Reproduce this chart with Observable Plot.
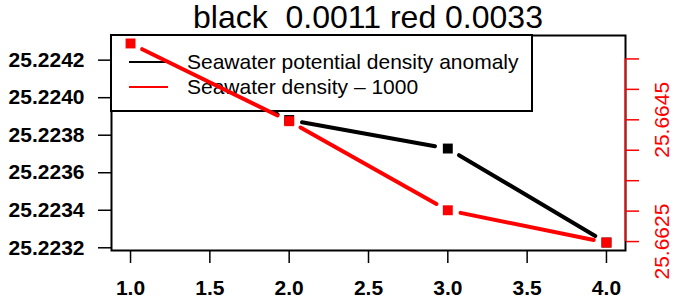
<!DOCTYPE html>
<html><head><meta charset="utf-8">
<script src="https://cdn.jsdelivr.net/npm/d3@7"></script>
<script src="https://cdn.jsdelivr.net/npm/@observablehq/plot@0.6"></script>
<style>
body{margin:0;background:#fff;}
#wrap{position:relative;width:674px;height:298px;font-family:"Liberation Sans",Arial,Helvetica,sans-serif;overflow:hidden;}
#wrap svg{position:absolute;left:0;top:0;}
#p1{z-index:0} #p2{z-index:2}
#title{position:absolute;left:111px;width:514px;top:1px;text-align:center;font-size:32px;line-height:32px;color:#000;white-space:pre;z-index:3;}
#legend{position:absolute;left:110px;top:34px;width:419px;height:74px;border:2px solid #000;background:#fff;z-index:1;}
#legend .row{position:absolute;left:0;height:24px;width:100%;}
#legend .sw{position:absolute;left:17px;width:39px;top:11px;height:0;border-top:2px solid;}
#legend .tx{position:absolute;left:75px;top:0;font-size:21px;line-height:24px;white-space:nowrap;color:#000;}
</style></head>
<body>
<div id="wrap">
  <div id="title"></div>
  <div id="legend"></div>
</div>
<script>
// ---- data ----
const xs = [1, 2, 3, 4];
const blackValues = [25.224289, 25.223881, 25.223729, 25.223228];
const redValues = [25.665754, 25.664477, 25.663014, 25.662484];
const xTicks = [1, 1.5, 2, 2.5, 3, 3.5, 4];
const blackTicks = [25.2232, 25.2234, 25.2236, 25.2238, 25.2240, 25.2242];
const redTicks = [25.6625, 25.6630, 25.6635, 25.6640, 25.6645, 25.6650, 25.6655];
const redLabels = [25.6625, 25.6645];
const seriesNames = ["Seawater potential density anomaly", "Seawater density \u2013 1000"];
const seriesColors = ["#000000", "#ff0000"];
const titleText = "black  0.0011 red 0.0033";

// ---- layout ----
const W = 674, H = 298, mL = 111, mR = 49, mT = 35, mB = 48;
const GAP = 13;
const pad = (v) => { const lo = d3.min(v), hi = d3.max(v), r = hi - lo; return [lo - 0.04 * r, hi + 0.04 * r]; };
const xDom = pad(xs);
const yDomB = pad(blackValues);
const yDomR = pad(redValues);

function gapSegs(vals, yDom) {
  const kx = (W - mL - mR) / (xDom[1] - xDom[0]);
  const ky = (H - mT - mB) / (yDom[1] - yDom[0]);
  const segs = [];
  for (let i = 0; i < xs.length - 1; i++) {
    const ddx = xs[i + 1] - xs[i], ddy = vals[i + 1] - vals[i];
    const L = Math.hypot(ddx * kx, ddy * ky);
    const t = GAP / L;
    segs.push({x1: xs[i] + ddx * t, y1: vals[i] + ddy * t, x2: xs[i + 1] - ddx * t, y2: vals[i + 1] - ddy * t});
  }
  return segs;
}
const ptsB = xs.map((x, i) => ({x, y: blackValues[i]}));
const ptsR = xs.map((x, i) => ({x, y: redValues[i]}));

const p1 = Plot.plot({
  width: W, height: H, marginLeft: mL, marginRight: mR, marginTop: mT, marginBottom: mB,
  style: {fontFamily: '"Liberation Sans", Arial, sans-serif', fontSize: "21px", fontWeight: "bold", background: "white", color: "black"},
  x: {domain: xDom},
  y: {domain: yDomB},
  marks: [
    Plot.link(gapSegs(blackValues, yDomB), {x1: "x1", y1: "y1", x2: "x2", y2: "y2", stroke: seriesColors[0], strokeWidth: 4, strokeLinecap: "round"}),
    Plot.dot(ptsB, {x: "x", y: "y", symbol: "square", r: 5.6, fill: seriesColors[0], stroke: null}),
    Plot.axisY(blackTicks, {anchor: "left", tickSize: 13, tickPadding: 14, tickFormat: d => d.toFixed(4), strokeWidth: 1.5, label: null}),
    Plot.axisX(xTicks, {anchor: "bottom", tickSize: 13, tickPadding: 17, tickFormat: d => d.toFixed(1), strokeWidth: 1.5, label: null}),
    Plot.frame({stroke: "black", strokeWidth: 2})
  ]
});
p1.id = "p1";

const p2 = Plot.plot({
  width: W, height: H, marginLeft: mL, marginRight: mR, marginTop: mT, marginBottom: mB,
  style: {fontFamily: '"Liberation Sans", Arial, sans-serif', fontSize: "20px", fontWeight: "normal", background: "transparent", overflow: "visible"},
  x: {domain: xDom, axis: null},
  y: {domain: yDomR},
  marks: [
    Plot.link(gapSegs(redValues, yDomR), {x1: "x1", y1: "y1", x2: "x2", y2: "y2", stroke: seriesColors[1], strokeWidth: 4, strokeLinecap: "round"}),
    Plot.dot(ptsR, {x: "x", y: "y", symbol: "square", r: 5.6, fill: seriesColors[1], stroke: null}),
    Plot.ruleX([xDom[1]], {x: d => d, y1: () => redTicks[0], y2: () => redTicks[redTicks.length - 1], stroke: seriesColors[1], strokeWidth: 1.5}),
    Plot.axisY(redTicks, {anchor: "right", tickSize: 13, tickFormat: () => "", stroke: seriesColors[1], strokeWidth: 1.5, label: null}),
    Plot.text(redLabels, {x: () => xDom[1], y: d => d, text: d => d.toFixed(4), rotate: -90, dx: 37, fill: seriesColors[1], fontSize: 21, textAnchor: "middle", lineAnchor: "middle"})
  ]
});
p2.id = "p2";

const wrap = document.getElementById("wrap");
wrap.insertBefore(p1, wrap.firstChild);
wrap.appendChild(p2);
document.getElementById("title").textContent = titleText;

const leg = document.getElementById("legend");
seriesNames.forEach((name, i) => {
  const row = document.createElement("div");
  row.className = "row";
  row.style.top = (14 + i * 25) + "px";
  const sw = document.createElement("div");
  sw.className = "sw"; sw.style.borderColor = seriesColors[i];
  const tx = document.createElement("div");
  tx.className = "tx"; tx.textContent = name;
  row.appendChild(sw); row.appendChild(tx);
  leg.appendChild(row);
});
</script>
</body></html>
